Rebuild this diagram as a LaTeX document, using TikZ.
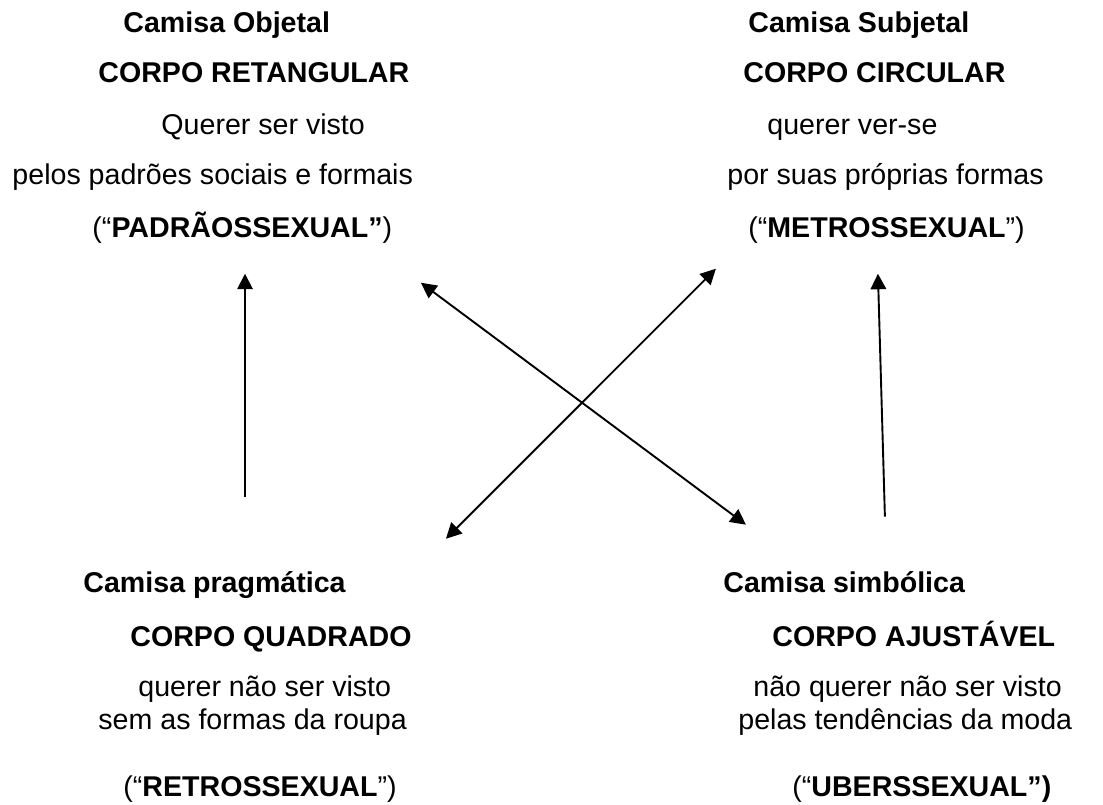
\documentclass[tikz,border=0pt]{standalone}
\usepackage{fontspec}
\setmainfont{Liberation Sans}
\usepackage{tikz}
\usetikzlibrary {arrows.meta}

\begin{document}
\begin{tikzpicture}[font=\fontsize{12pt}{14pt}\selectfont,
    txt/.style={anchor=base west, inner sep=0pt},
    hd/.style={txt, font=\fontsize{12pt}{14pt}\selectfont\bfseries},
    seta/.style={line width=0.8pt, >={Triangle[length=6.5pt,width=6.5pt]}}]
    \useasboundingbox (0,0) rectangle (16.27,11.87);
    % camisa objetal
    \node [hd] (objtit) at (1.814,11.386) {Camisa Objetal};
    \node [hd] (objcorpo) at (1.445,10.649) {CORPO RETANGULAR};
    \node [txt] (objqa) at (2.375,9.882) {Querer ser visto};
    \node [txt] (objqb) at (0.177,9.145) {pelos padrões sociais e formais};
    \node [txt] (objtipo) at (1.357,8.363) {(“\textbf{PADRÃOSSEXUAL”})};
    % camisa subjetal
    \node [hd] (subtit) at (11.032,11.386) {Camisa Subjetal};
    \node [hd] (subcorpo) at (10.959,10.649) {CORPO CIRCULAR};
    \node [txt] (subqa) at (11.313,9.882) {querer ver-se};
    \node [txt] (subqb) at (10.723,9.145) {por suas próprias formas};
    \node [txt] (subtipo) at (11.032,8.363) {(“\textbf{METROSSEXUAL}”)};
    % camisa pragmatica
    \node [hd] (pragtit) at (1.224,3.127) {Camisa pragmática};
    \node [hd] (pragcorpo) at (1.917,2.330) {CORPO QUADRADO};
    \node [txt] (pragqa) at (2.035,1.593) {querer não ser visto};
    \node [txt] (pragqb) at (1.445,1.106) {sem as formas da roupa};
    \node [txt] (pragtipo) at (1.814,0.118) {(“\textbf{RETROSSEXUAL}”)};
    % camisa simbolica
    \node [hd] (simtit) at (10.664,3.127) {Camisa simbólica};
    \node [hd] (simcorpo) at (11.386,2.330) {CORPO AJUSTÁVEL};
    \node [txt] (simqa) at (11.106,1.593) {não querer não ser visto};
    \node [txt] (simqb) at (10.885,1.106) {pelas tendências da moda};
    \node [txt] (simtipo) at (11.681,0.118) {(“\textbf{UBERSSEXUAL”)}};
    % setas
    \coordinate (pragbase) at (3.614,4.543);
    \coordinate (objponta) at (3.614,7.832);
    \coordinate (simbase) at (13.053,4.248);
    \coordinate (subponta) at (12.950,7.832);
    \coordinate (diagaa) at (6.209,7.699);
    \coordinate (diagab) at (11.003,4.130);
    \coordinate (diagba) at (6.578,3.923);
    \coordinate (diagbb) at (10.560,7.906);
    \draw [seta, ->] (pragbase) -- (objponta);
    \draw [seta, ->] (simbase) -- (subponta);
    \draw [seta, <->] (diagaa) -- (diagab);
    \draw [seta, <->] (diagba) -- (diagbb);
\end{tikzpicture}
\end{document}
